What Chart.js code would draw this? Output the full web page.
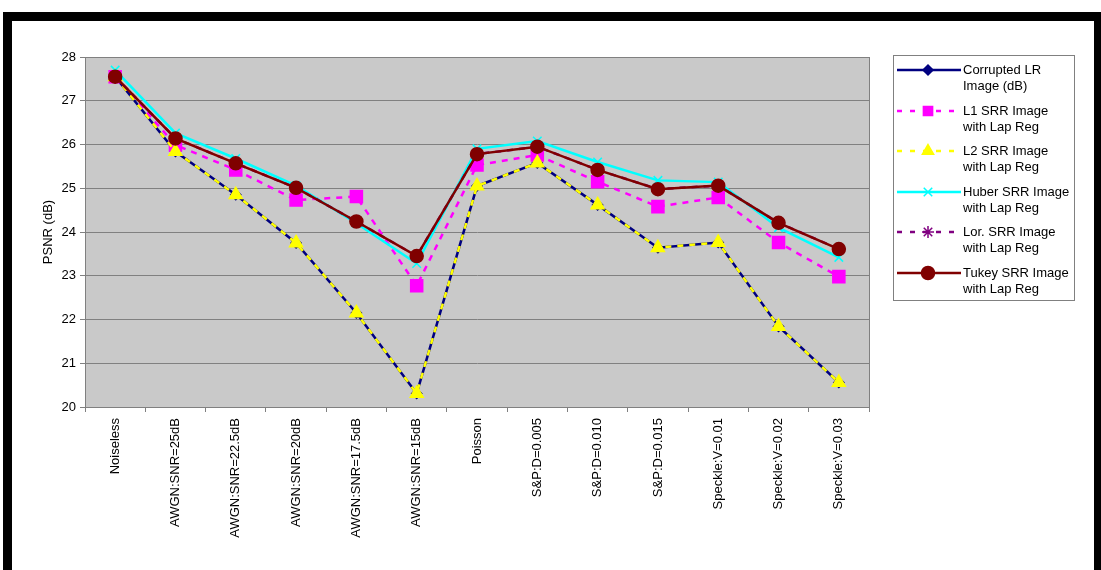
<!DOCTYPE html>
<html>
<head>
<meta charset="utf-8">
<title>PSNR comparison</title>
<script src="https://cdn.jsdelivr.net/npm/chart.js@4.4.1/dist/chart.umd.min.js"></script>
<style>
  html, body { margin: 0; padding: 0; background: #fff; }
  #wrap { width: 1101px; height: 570px; position: relative; }
</style>
</head>
<body>
<div id="wrap"><canvas id="psnrChart" width="1101" height="570"></canvas></div>
<script>
/* données PSNR (dB) par type de bruit */
const categories = [
  'Noiseless', 'AWGN:SNR=25dB', 'AWGN:SNR=22.5dB', 'AWGN:SNR=20dB',
  'AWGN:SNR=17.5dB', 'AWGN:SNR=15dB', 'Poisson', 'S&P:D=0.005',
  'S&P:D=0.010', 'S&P:D=0.015', 'Speckle:V=0.01', 'Speckle:V=0.02', 'Speckle:V=0.03'
];
const corruptedLR = [27.55, 25.84, 24.85, 23.75, 22.15, 20.31, 25.05, 25.58, 24.62, 23.64, 23.76, 21.84, 20.56];
const l1SRR       = [27.55, 25.99, 25.42, 24.73, 24.81, 22.77, 25.53, 25.76, 25.15, 24.58, 24.79, 23.76, 22.98];
const l2SRR       = [27.55, 25.84, 24.85, 23.75, 22.15, 20.31, 25.05, 25.58, 24.62, 23.64, 23.76, 21.84, 20.56];
const huberSRR    = [27.70, 26.26, 25.68, 25.06, 24.20, 23.28, 25.90, 26.08, 25.60, 25.18, 25.14, 24.10, 23.42];
const lorSRR      = [27.55, 26.14, 25.57, 25.01, 24.24, 23.45, 25.78, 25.95, 25.42, 24.98, 25.06, 24.21, 23.61];
const tukeySRR    = [27.55, 26.14, 25.57, 25.01, 24.24, 23.45, 25.78, 25.95, 25.42, 24.98, 25.06, 24.21, 23.61];
const yTicks = [20, 21, 22, 23, 24, 25, 26, 27, 28];

const FONT = '"Liberation Sans", Arial, sans-serif';

function serie(label, lines, data, color, style, radius, dash, order) {
  return {
    label: label,
    legendLines: lines,
    data: data,
    borderColor: color,
    backgroundColor: color,
    borderWidth: 2.5,
    borderDash: dash,
    pointStyle: style,
    pointRadius: radius,
    pointHoverRadius: radius,
    pointBorderColor: color,
    pointBackgroundColor: color,
    pointBorderWidth: 1.5,
    tension: 0,
    order: order
  };
}

const datasets = [
  serie('Corrupted LR Image (dB)', ['Corrupted LR', 'Image (dB)'], corruptedLR, '#000080', 'rectRot', 5, [], 6),
  serie('L1 SRR Image with Lap Reg', ['L1 SRR Image', 'with Lap Reg'], l1SRR, '#ff00ff', 'rect', 8.5, [6, 6], 5),
  serie('L2 SRR Image with Lap Reg', ['L2 SRR Image', 'with Lap Reg'], l2SRR, '#ffff00', 'triangle', 7.5, [6, 6], 4),
  serie('Huber SRR Image with Lap Reg', ['Huber SRR Image', 'with Lap Reg'], huberSRR, '#00ffff', 'crossRot', 6, [], 3),
  serie('Lor. SRR Image with Lap Reg', ['Lor. SRR Image', 'with Lap Reg'], lorSRR, '#800080', 'star', 6, [6, 6], 2),
  serie('Tukey SRR Image with Lap Reg', ['Tukey SRR Image', 'with Lap Reg'], tukeySRR, '#800000', 'circle', 6.5, [], 1)
];

/* cadre noir, fond gris de la zone de tracé, légende */
const frame = {
  id: 'frame',
  beforeDraw(chart) {
    const ctx = chart.ctx;
    const a = chart.chartArea;
    ctx.save();
    ctx.fillStyle = '#fff';
    ctx.fillRect(0, 0, chart.width, chart.height);
    ctx.fillStyle = '#000';
    ctx.fillRect(3, 12, 1098, 9);
    ctx.fillRect(3, 12, 9, 558);
    ctx.fillRect(1094, 12, 7, 558);
    ctx.fillStyle = '#c9c9c9';
    ctx.fillRect(a.left, a.top, a.right - a.left, a.bottom - a.top);
    ctx.restore();
  },
  beforeDatasetsDraw(chart) {
    const ctx = chart.ctx;
    const a = chart.chartArea;
    ctx.save();
    ctx.strokeStyle = '#808080';
    ctx.lineWidth = 1;
    ctx.strokeRect(Math.round(a.left) + 0.5, Math.round(a.top) + 0.5,
      Math.round(a.right - a.left), Math.round(a.bottom - a.top));
    ctx.restore();
  },
  afterDraw(chart) {
    const ctx = chart.ctx;
    ctx.save();
    ctx.fillStyle = '#fff';
    ctx.fillRect(893, 55, 181, 245);
    ctx.strokeStyle = '#808080';
    ctx.lineWidth = 1;
    ctx.strokeRect(893.5, 55.5, 181, 245);
    ctx.font = '13px ' + FONT;
    ctx.textBaseline = 'middle';
    chart.data.datasets.forEach((ds, i) => {
      const y = Math.round(70 + i * 40.6);
      ctx.strokeStyle = ds.borderColor;
      ctx.lineWidth = 2.5;
      ctx.setLineDash(ds.borderDash.length ? [5, 8] : []);
      ctx.beginPath();
      ctx.moveTo(897, y);
      ctx.lineTo(961, y);
      ctx.stroke();
      ctx.setLineDash([]);
      ctx.fillStyle = ds.pointBackgroundColor;
      ctx.strokeStyle = ds.pointBorderColor;
      ctx.lineWidth = 1.5;
      Chart.helpers.drawPoint(ctx, {
        pointStyle: ds.pointStyle,
        radius: Math.min(ds.pointRadius, 6.5),
        rotation: 0,
        borderWidth: 1.5
      }, 928, y);
      ctx.fillStyle = '#000';
      ctx.fillText(ds.legendLines[0], 963, y);
      ctx.fillText(ds.legendLines[1], 963, y + 16);
    });
    ctx.restore();
  }
};

new Chart(document.getElementById('psnrChart'), {
  type: 'line',
  data: { labels: categories, datasets: datasets },
  options: {
    responsive: false,
    animation: false,
    layout: { padding: { left: 32, right: 232, top: 57, bottom: 0 } },
    plugins: { legend: { display: false }, tooltip: { enabled: false } },
    scales: {
      x: {
        offset: true,
        grid: { offset: true, drawOnChartArea: false, tickLength: 5, color: '#808080' },
        border: { color: '#808080' },
        ticks: {
          autoSkip: false, minRotation: 90, maxRotation: 90, padding: 6,
          color: '#000', font: { size: 13, family: FONT }
        },
        afterFit(scale) { scale.height = 163; }
      },
      y: {
        min: yTicks[0],
        max: yTicks[yTicks.length - 1],
        afterBuildTicks(scale) { scale.ticks = yTicks.map(v => ({ value: v })); },
        grid: { color: '#808080', tickLength: 5 },
        border: { color: '#808080' },
        ticks: { padding: 4, color: '#000', font: { size: 13, family: FONT } },
        title: {
          display: true, text: 'PSNR (dB)', color: '#000',
          padding: { top: 9, bottom: 0 },
          font: { size: 13, family: FONT }
        },
        afterFit(scale) { scale.width = 53; }
      }
    }
  },
  plugins: [frame]
});
</script>
</body>
</html>
